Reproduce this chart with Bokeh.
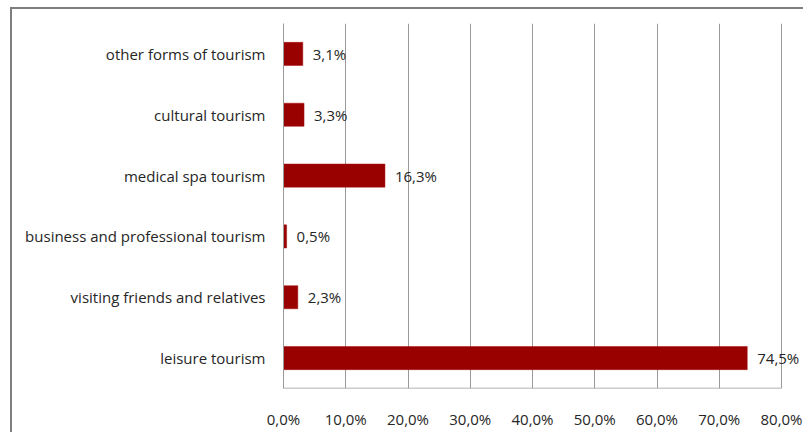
from bokeh.plotting import figure
from bokeh.models import ColumnDataSource, FixedTicker, FactorRange, LabelSet
from bokeh.core.properties import value
from bokeh.embed import file_html
from bokeh.resources import INLINE

categories = ["leisure tourism", "visiting friends and relatives",
              "business and professional tourism", "medical spa tourism",
              "cultural tourism", "other forms of tourism"]
shares = [74.5, 2.3, 0.5, 16.3, 3.3, 3.1]
tick_values = [0, 10, 20, 30, 40, 50, 60, 70, 80]
tick_labels = ["0,0%", "10,0%", "20,0%", "30,0%", "40,0%", "50,0%", "60,0%", "70,0%", "80,0%"]

labels = [("%.1f%%" % v).replace(".", ",") for v in shares]
src = ColumnDataSource(dict(cat=categories, val=shares, lab=labels))

FONT = "Open Sans"
FS = "15px"
GRAY = "#9a9a9a"

# layout: canvas 793x425 offset by css border; frame spans 271..793 px
frame_px = 522
axis_px = 498
x_end = tick_values[-1] * frame_px / axis_px

p = figure(width=793, height=425, y_range=FactorRange(factors=categories),
           x_range=(0, x_end), output_backend="svg", toolbar_location=None,
           min_border_left=271, min_border_right=0, min_border_top=14,
           min_border_bottom=46)
p.styles = {"margin-left": "10px", "margin-top": "7px",
            "border-left": "2px solid #7f7f7f", "border-top": "2px solid #7f7f7f"}
p.outline_line_color = None
p.background_fill_color = "white"
p.border_fill_color = "white"

p.hbar(y="cat", right="val", left=0, height=0.38, source=src,
       fill_color="#990000", line_color="#aa1111", line_width=0.5)
p.add_layout(LabelSet(x="val", y="cat", text="lab", source=src, x_offset=10,
                      text_baseline="middle", text_align="left",
                      text_font=value(FONT), text_font_size=FS,
                      text_color="#262626"))

# bottom axis line limited to the tick span
p.segment(x0=[tick_values[0]], x1=[tick_values[-1]],
          y0=[(categories[0], -0.5)], y1=[(categories[0], -0.5)],
          line_color=GRAY, line_width=1.5)

p.xaxis.ticker = FixedTicker(ticks=tick_values)
p.xaxis.major_label_overrides = {t: l for t, l in zip(tick_values, tick_labels)}
p.xaxis.major_tick_line_color = None
p.xaxis.minor_tick_line_color = None
p.xaxis.axis_line_color = None
p.xaxis.major_label_standoff = 14
p.xaxis.major_label_text_font = FONT
p.xaxis.major_label_text_font_size = FS
p.xaxis.major_label_text_color = "#262626"

p.yaxis.major_tick_line_color = None
p.yaxis.minor_tick_line_color = None
p.yaxis.axis_line_color = GRAY
p.yaxis.major_label_standoff = 12
p.yaxis.major_label_text_font = FONT
p.yaxis.major_label_text_font_size = FS
p.yaxis.major_label_text_color = "#262626"

p.xgrid.ticker = FixedTicker(ticks=tick_values[1:])
p.xgrid.grid_line_color = GRAY
p.xgrid.grid_line_width = 1
p.ygrid.grid_line_color = None

open("out.html", "w").write(file_html(p, INLINE))
